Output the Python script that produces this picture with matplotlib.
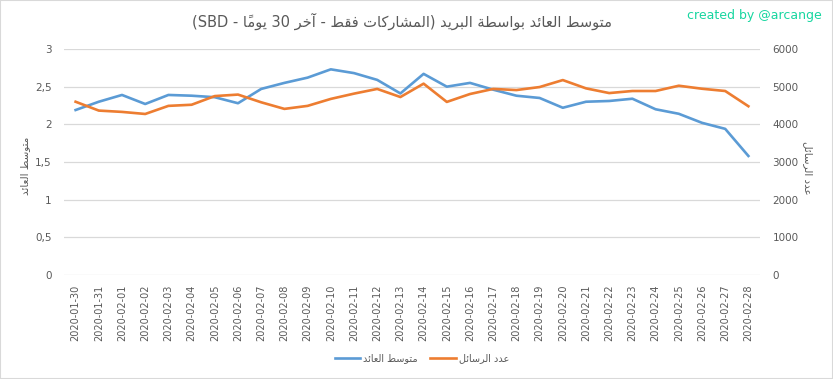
import matplotlib
matplotlib.use("Agg")
import matplotlib.pyplot as plt
from matplotlib.lines import Line2D
from matplotlib.patches import Rectangle
from matplotlib.ticker import FuncFormatter

dates = [
    "2020-01-30", "2020-01-31", "2020-02-01", "2020-02-02", "2020-02-03",
    "2020-02-04", "2020-02-05", "2020-02-06", "2020-02-07", "2020-02-08",
    "2020-02-09", "2020-02-10", "2020-02-11", "2020-02-12", "2020-02-13",
    "2020-02-14", "2020-02-15", "2020-02-16", "2020-02-17", "2020-02-18",
    "2020-02-19", "2020-02-20", "2020-02-21", "2020-02-22", "2020-02-23",
    "2020-02-24", "2020-02-25", "2020-02-26", "2020-02-27", "2020-02-28",
]
avg_return = [
    2.19, 2.30, 2.39, 2.27, 2.39, 2.38, 2.36, 2.28, 2.47, 2.55,
    2.62, 2.73, 2.68, 2.59, 2.41, 2.67, 2.50, 2.55, 2.46, 2.38,
    2.35, 2.22, 2.30, 2.31, 2.34, 2.20, 2.14, 2.02, 1.94, 1.58,
]
msg_count = [
    4600, 4365, 4330, 4275, 4490, 4520, 4750, 4790, 4585, 4410,
    4490, 4675, 4815, 4940, 4725, 5080, 4595, 4805, 4940, 4910,
    4990, 5175, 4955, 4830, 4885, 4885, 5025, 4945, 4885, 4480,
]
left_ticks = [0, 0.5, 1, 1.5, 2, 2.5, 3]
right_ticks = [0, 1000, 2000, 3000, 4000, 5000, 6000]

# minimal arabic shaping (presentation forms B), matplotlib has no shaping/bidi
FORMS = {
    "ا": "\ufe8d\ufe8e", "آ": "\ufe81\ufe82", "ة": "\ufe93\ufe94",
    "د": "\ufea9\ufeaa", "ر": "\ufead\ufeae", "و": "\ufeed\ufeee",
    "ب": "\ufe8f\ufe90\ufe91\ufe92", "ت": "\ufe95\ufe96\ufe97\ufe98",
    "خ": "\ufea5\ufea6\ufea7\ufea8", "س": "\ufeb1\ufeb2\ufeb3\ufeb4",
    "ش": "\ufeb5\ufeb6\ufeb7\ufeb8", "ط": "\ufec1\ufec2\ufec3\ufec4",
    "ع": "\ufec9\ufeca\ufecb\ufecc", "ف": "\ufed1\ufed2\ufed3\ufed4",
    "ق": "\ufed5\ufed6\ufed7\ufed8", "ك": "\ufed9\ufeda\ufedb\ufedc",
    "ل": "\ufedd\ufede\ufedf\ufee0", "م": "\ufee1\ufee2\ufee3\ufee4",
    "ي": "\ufef1\ufef2\ufef3\ufef4", "ئ": "\ufe89\ufe8a\ufe8b\ufe8c",
}
MARKS = "\u064b"


def ar(text):
    chars = list(text)
    letters = [i for i, c in enumerate(chars) if c not in MARKS]
    clusters = []
    for k, i in enumerate(letters):
        c = chars[i]
        if c in FORMS:
            prev = chars[letters[k - 1]] if k > 0 else None
            nxt = chars[letters[k + 1]] if k + 1 < len(letters) else None
            jp = prev in FORMS and len(FORMS[prev]) == 4
            jn = len(FORMS[c]) == 4 and nxt in FORMS
            f = FORMS[c]
            if jp and jn:
                g = f[3]
            elif jp:
                g = f[1]
            elif jn:
                g = f[2]
            else:
                g = f[0]
        else:
            g = c
        # mark goes in front of its letter in visual order so it sits on it
        j = i + 1
        while j < len(chars) and chars[j] in MARKS:
            g = chars[j] + g
            j += 1
        clusters.append(g)
    return "".join(reversed(clusters))


label_avg = ar("متوسط العائد")
label_cnt = ar("عدد الرسائل")
title = ("(SBD - " + ar("يومًا") + " 30 " + ar("آخر") + " - "
         + ar("المشاركات فقط") + ") " + ar("متوسط العائد بواسطة البريد"))

grey = "#595959"
blue = "#5B9BD5"
orange = "#ED7D31"
plt.rcParams["font.family"] = ["DejaVu Sans"]

fig = plt.figure(figsize=(8.33, 3.79), dpi=100)
ax = fig.add_axes([64 / 833, 1 - 275 / 379, (760 - 64) / 833, (275 - 49) / 379])
ax2 = ax.twinx()

x = range(len(dates))
ax.plot(x, avg_return, color=blue, lw=1.9, zorder=3)
ax2.plot(x, msg_count, color=orange, lw=1.9, zorder=3)

ax.set_xlim(-0.5, len(dates) - 0.5)
ax.set_ylim(0, 3)
ax2.set_ylim(0, 6000)
ax.set_yticks(left_ticks)
ax2.set_yticks(right_ticks)
ax.yaxis.set_major_formatter(FuncFormatter(lambda v, p: f"{v:g}".replace(".", ",")))
ax.set_xticks(list(x))
ax.set_xticklabels(dates, rotation=90)

ax.grid(axis="y", color="#D9D9D9", lw=0.9)
ax.set_axisbelow(True)
for a in (ax, ax2):
    for s in a.spines.values():
        s.set_visible(False)
    a.tick_params(length=0, labelsize=7.5, labelcolor=grey)
ax.tick_params(axis="y", pad=9)
ax2.tick_params(axis="y", pad=9)
ax.tick_params(axis="x", pad=7, labelsize=7)

fig.text(25 / 833, 1 - 166 / 379, label_avg, rotation=90, ha="center", va="center",
         fontsize=7.5, color=grey)
fig.text(808 / 833, 1 - 168 / 379, label_cnt, rotation=270, ha="center", va="center",
         fontsize=7.5, color=grey)
fig.text(402 / 833, 1 - 21 / 379, title, ha="center", va="center", fontsize=10.5, color=grey)
fig.text(822 / 833, 1 - 15 / 379, "created by @arcange", ha="right", va="center",
         fontsize=9, color="#17D6A0")

handles = [Line2D([], [], color=blue, lw=1.9), Line2D([], [], color=orange, lw=1.9)]
fig.legend(handles, [label_avg, label_cnt], loc="center", ncol=2,
           bbox_to_anchor=(422 / 833, 1 - 358 / 379), frameon=False, fontsize=7,
           labelcolor=grey, handlelength=2.6, handletextpad=0.3, columnspacing=1.3)

fig.patches.append(Rectangle((0, 0), 1, 1, transform=fig.transFigure, fill=False,
                             edgecolor="#D9D9D9", lw=1.5))

fig.savefig("out.png", dpi=100)
